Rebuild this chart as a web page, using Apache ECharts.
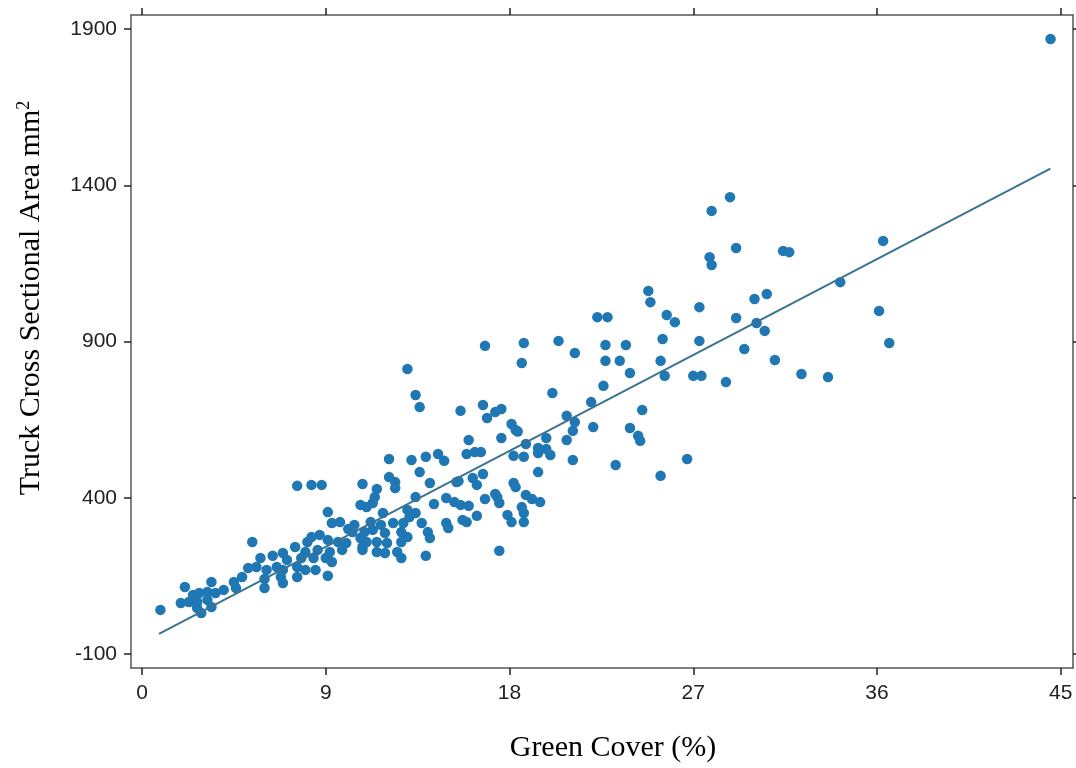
<!DOCTYPE html>
<html>
<head>
<meta charset="utf-8">
<script src="https://cdn.jsdelivr.net/npm/echarts@6/dist/echarts.min.js"></script>
<style>
  html, body {margin: 0; padding: 0; background: #fff;}
  #main {width: 1076px; height: 768px;}
</style>
</head>
<body>
<div id="main"></div>
<script>
// green cover (%) of each tree
const greenCover = [
  44.5, 36.3, 36.1, 36.6,
  28.8, 27.9, 29.1, 27.8, 27.9, 31.4, 31.7, 34.2, 24.8, 24.9, 27.3, 30.6, 30.0, 25.7, 26.1, 29.1,
  30.1, 30.5, 25.5, 27.3, 29.5, 25.4, 31.0, 25.6, 27.0, 27.4, 28.6, 32.3, 33.6,
  22.3, 22.8, 20.4, 22.7, 23.7, 21.2, 22.7, 23.4, 23.9, 20.1, 22.6, 22.0, 24.5, 20.8, 21.2, 21.1,
  22.1, 23.9, 24.3, 24.4, 19.8, 20.8, 19.8, 20.0, 21.1, 23.2, 26.7, 25.4,
  13.0, 18.6, 16.8, 18.7, 13.4, 13.6, 15.6, 16.7, 16.9, 17.3, 17.6, 18.1, 18.3, 18.4, 17.6, 16.0,
  18.8, 19.4, 19.4, 15.9, 16.3, 16.6, 18.2, 18.7, 12.1, 13.2, 13.9, 14.5, 14.8, 13.6, 12.1, 12.4,
  12.4, 10.8, 14.1, 15.4, 15.5, 16.2, 16.7, 16.4, 18.2, 18.3, 19.4, 13.4, 11.5, 11.4, 14.3, 14.9,
  15.3, 15.6, 16.0, 16.4, 15.7, 15.9, 16.8, 17.3, 17.5, 17.4, 17.9, 18.1, 18.6, 18.7, 18.7, 18.8,
  19.1, 19.5, 14.9, 15.0, 14.0, 14.1, 13.7, 13.9, 17.5, 13.4, 13.0, 13.1, 12.8, 12.7, 12.7, 12.5,
  12.7, 13.0,
  11.0, 11.3, 11.8, 11.2, 11.7, 12.3, 10.9, 11.3, 11.9, 11.0, 11.5, 12.0, 10.8, 11.5, 11.9,
  7.6, 8.3, 8.8, 10.7, 9.1, 9.3, 9.7, 10.4, 10.7, 10.8, 5.4, 8.3, 8.7, 9.1, 8.1, 9.6, 10.0, 7.5,
  8.0, 8.6, 9.2, 9.8, 5.8, 6.4, 6.9, 7.1, 7.8, 8.4, 9.0, 9.3, 5.6, 5.2, 6.1, 6.6, 6.9, 7.6, 8.0,
  8.5, 9.1, 7.6, 6.8, 6.9, 6.0, 6.0, 4.9, 4.5, 3.4, 4.0, 4.6, 2.1, 2.5, 2.8, 3.2, 3.6, 1.9, 2.3,
  2.7, 3.2, 3.4, 2.7, 2.9, 0.9, 10.3, 10.1
];
// trunk cross sectional area (mm2)
const truckArea = [
  1868, 1222, 998, 895,
  1362, 1318, 1199, 1170, 1145, 1190, 1186, 1090, 1062, 1026, 1010, 1052, 1036, 985, 962, 975,
  959, 934, 908, 902, 876, 838, 841, 790, 790, 790, 770, 796, 786,
  978, 978, 902, 889, 889, 863, 838, 838, 799, 735, 758, 706, 681, 662, 642, 614,
  626, 623, 598, 582, 591, 585, 556, 537, 521, 505, 524, 470,
  812, 831, 886, 895, 729, 690, 678, 697, 655, 674, 684, 636, 617, 612, 591, 585,
  572, 559, 543, 540, 546, 546, 534, 531, 524, 521, 531, 540, 518, 482, 466, 450,
  431, 444, 447, 450, 453, 463, 476, 441, 447, 434, 482, 402, 428, 402, 380, 399,
  386, 377, 374, 342, 329, 322, 396, 412, 383, 402, 345, 322, 370, 351, 322, 409,
  396, 386, 319, 303, 290, 271, 319, 214, 230, 351, 361, 338, 319, 290, 258, 226,
  207, 274,
  370, 383, 351, 322, 313, 319, 290, 297, 287, 258, 258, 255, 233, 226, 223,
  438, 441, 441, 377, 354, 319, 322, 313, 271, 242, 258, 274, 281, 265, 258, 258, 255, 242,
  226, 233, 226, 233, 207, 214, 223, 201, 207, 207, 207, 194, 178, 175, 169, 178, 169, 178, 169,
  169, 150, 146, 146, 127, 140, 111, 146, 130, 130, 105, 111, 114, 89, 95, 98, 95, 63, 66,
  66, 73, 50, 47, 31, 41, 290, 300
];
// fitted regression line, read at its two ends
const fitX = [0.83, 44.49];
const fitY = [-36, 1453];

const xTicks = [0, 9, 18, 27, 36, 45];
const yTicks = [-100, 400, 900, 1400, 1900];

const points = greenCover.map((x, i) => [x, truckArea[i]]);
const fitLine = fitX.map((x, i) => [x, fitY[i]]);

const axisColor = '#555';
const tickStyle = {color: '#222', width: 1.5};
const labelFont = {
  color: '#222', fontSize: 21, fontFamily: 'Liberation Sans, Arial, sans-serif',
  formatter: v => String(v)
};
const titleFont = 'Liberation Serif, Times New Roman, serif';

const xRange = {type: 'value', min: -0.54, max: 45.6, splitLine: {show: false}};
const yRange = {type: 'value', min: -145, max: 1945, splitLine: {show: false}};
const line = {show: true, onZero: false, lineStyle: {color: axisColor, width: 1.5}};

const chart = echarts.init(document.getElementById('main'));
chart.setOption({
  animation: false,
  backgroundColor: '#fff',
  grid: {left: 131, right: 3, top: 15, bottom: 100, containLabel: false},
  xAxis: [
    {
      ...xRange, position: 'bottom', axisLine: line,
      axisTick: {show: true, length: 7, customValues: xTicks, lineStyle: tickStyle},
      axisLabel: {customValues: xTicks, margin: 15, ...labelFont}
    },
    {
      ...xRange, position: 'top', axisLine: line,
      axisTick: {show: true, length: 7, customValues: xTicks, lineStyle: tickStyle},
      axisLabel: {show: false}
    }
  ],
  yAxis: [
    {
      ...yRange, position: 'left', axisLine: line,
      axisTick: {show: true, length: 7, customValues: yTicks, lineStyle: tickStyle},
      axisLabel: {customValues: yTicks, margin: 14, ...labelFont}
    },
    {
      ...yRange, position: 'right', axisLine: line,
      axisTick: {show: true, length: 5, customValues: yTicks, lineStyle: tickStyle},
      axisLabel: {show: false}
    }
  ],
  graphic: [
    {
      type: 'text', x: 613, y: 748,
      style: {
        text: 'Green Cover (%)', fill: '#000',
        font: '30px ' + titleFont, align: 'center', verticalAlign: 'middle'
      }
    },
    {
      type: 'text', x: 31, y: 298, rotation: Math.PI / 2,
      style: {
        text: '{a|Truck Cross Sectional Area mm}{s|2}',
        align: 'center', verticalAlign: 'middle',
        rich: {
          a: {fontSize: 30, fontFamily: titleFont, fill: '#000'},
          s: {fontSize: 18, fontFamily: titleFont, fill: '#000', padding: [0, 0, 14, 0]}
        }
      }
    }
  ],
  series: [
    {
      type: 'scatter',
      data: points,
      symbolSize: 10.5,
      itemStyle: {color: '#1f77b4', opacity: 1}
    },
    {
      type: 'line',
      data: fitLine,
      symbol: 'none',
      lineStyle: {color: '#3a7391', width: 2}
    }
  ]
});
</script>
</body>
</html>
